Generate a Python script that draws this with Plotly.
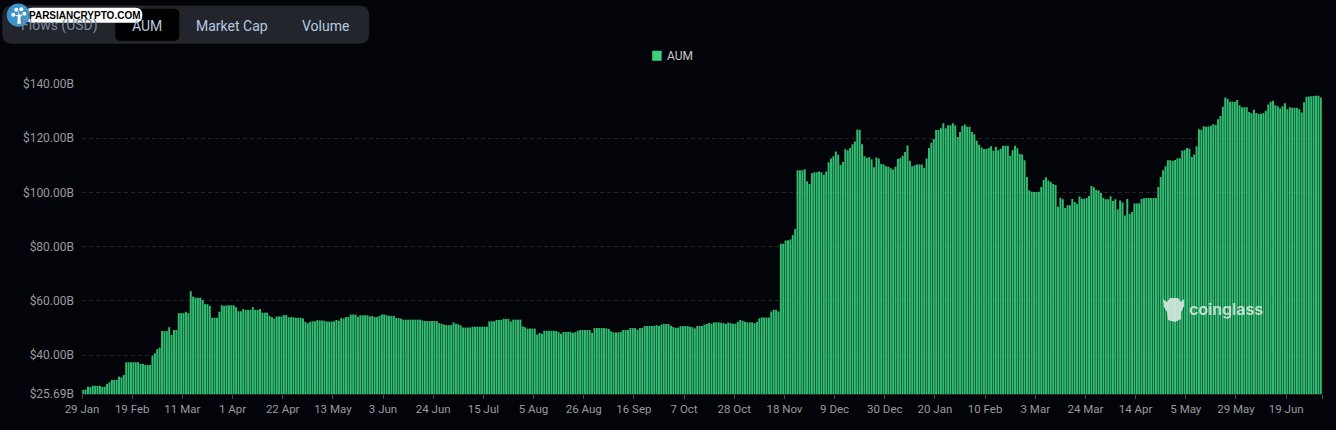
import plotly.graph_objects as go

# AUM in $B, split by stretch of the chart
aum_start = [27.2, 27.3, 28.4, 28.2, 28.7, 28.7, 28.7, 28.7, 28.3, 28.4,
             29.4, 30.0, 30.9, 30.9, 30.9, 32.1, 31.8, 32.7,
             37.4, 37.4, 37.4, 37.4, 37.4, 37.4, 36.8, 36.8, 36.4, 36.4, 36.4,
             39.8, 40.7, 42.2, 42.8, 48.9, 48.9, 48.9, 50.3, 47.5, 49.3, 49.3,
             55.5, 55.5, 55.5, 56.0, 55.5]
aum_spring = [63.6, 61.6, 61.2, 61.2, 61.2, 60.4, 58.8, 58.8, 58.2, 53.8, 53.8, 53.8,
              56.0, 58.4, 58.2, 58.4, 58.4, 58.4, 58.4, 57.7, 56.2, 56.2, 57.0,
              56.7, 56.7, 56.7, 57.7, 56.7, 56.7, 57.0, 55.7, 55.7, 55.7, 54.5, 54.0,
              53.5, 54.3, 54.3, 54.3, 54.8, 54.8, 54.0, 54.0, 54.0, 53.8, 53.8, 53.8,
              53.5, 52.3, 51.8, 52.3, 52.5, 52.5, 52.9, 52.8, 52.8, 52.7, 52.4, 52.4]
aum_summer = [52.4, 52.5, 53.0, 52.7, 53.7, 53.5, 54.1, 54.1, 55.0, 55.0, 55.0, 54.2,
              54.7, 54.7, 54.7, 54.7, 54.3, 54.5, 54.1, 54.1, 54.5, 55.0, 55.0, 54.7,
              54.5, 54.5, 54.5, 53.7, 53.7, 53.5, 53.1, 53.1, 53.1,
              53.1, 53.1, 53.1, 53.1, 53.1, 52.8, 52.6, 52.6, 52.6, 52.6, 52.6, 52.6,
              51.8, 51.6, 51.3, 51.1, 51.1, 51.1, 52.1, 51.6, 51.4, 51.0, 50.2, 50.2,
              50.2, 50.2, 50.5, 50.5, 50.5, 50.5, 50.5, 50.5, 50.5, 52.5, 52.5, 52.5,
              53.0, 53.0, 53.0, 53.4, 53.4, 53.4, 52.4, 53.1, 53.1, 53.1, 53.1, 50.6,
              50.3, 49.8, 49.8, 49.8, 49.8, 47.6, 48.2, 47.9, 49.0, 49.0, 49.0, 49.0,
              49.0, 48.9, 48.5, 47.9, 48.6, 48.6, 48.6, 48.6, 48.2, 48.5, 49.0, 49.3,
              49.3, 49.3, 49.3, 49.3, 48.2, 50.0, 50.0, 50.0, 50.0, 50.0, 49.9, 49.7,
              48.8, 48.4, 48.4, 48.4, 48.6, 49.3, 49.3, 49.3, 50.0, 50.0, 50.0, 49.4,
              50.0, 50.0, 50.8, 50.8, 50.8]
aum_autumn = [50.8, 50.8, 51.1, 50.8, 51.3, 51.5, 51.5, 51.5, 50.9, 50.4, 50.0, 50.2,
              50.7, 50.7, 50.7, 50.7, 50.5, 50.3, 49.9, 50.8, 50.8, 50.8, 51.3, 51.5,
              51.9, 51.6, 52.1, 52.1, 52.1, 51.9, 51.8, 51.6, 52.0, 51.8, 51.6, 51.6,
              52.3, 53.0, 52.7, 52.3, 52.1, 52.1, 52.1, 51.8, 52.3, 53.6, 53.9, 53.9,
              53.9, 53.9, 56.1, 56.7, 56.7, 56.1]
aum_winter = [81.1, 81.1, 82.3, 82.4, 82.7, 84.3, 86.5, 108.2, 108.2, 108.2, 108.6,
              104.1, 103.1, 107.1, 107.5, 107.5, 107.7, 107.5, 106.5, 107.7, 111.1, 112.5,
              113.4, 115.1, 113.9, 110.1, 111.2, 115.9, 115.6, 116.4, 117.8, 118.8, 123.2,
              123.0, 117.8, 113.4, 112.8, 113.0, 112.2, 109.3, 112.9, 112.5, 110.5, 110.3,
              109.7, 109.5, 108.9, 108.5, 109.5, 112.3, 112.7, 113.5, 114.9, 117.3, 111.7,
              109.7, 110.0, 110.3, 110.3, 110.3, 109.0, 112.5, 116.4, 118.3, 119.7, 123.0,
              123.0, 123.7, 125.5, 123.7, 124.8, 124.8, 125.5, 124.7, 120.5, 122.3, 124.5,
              125.1, 124.2, 124.2, 122.3, 121.5, 119.1, 117.6, 116.6, 116.0, 116.0, 116.4,
              117.0, 115.4, 116.9, 115.6]
aum_end = [116.1, 117.2, 117.2, 117.2, 113.5, 115.6, 117.2, 116.3, 114.2, 114.0, 111.9, 105.7,
           100.8, 100.3, 100.2, 100.2, 100.3, 102.0, 104.6, 105.6, 104.4, 103.9, 103.1, 102.8,
           94.7, 98.1, 97.5, 94.3, 95.3, 95.3, 97.6, 96.5, 95.8, 98.5, 97.7, 97.7, 98.0, 98.7,
           102.4, 101.9, 100.9, 100.7, 99.8, 98.0, 97.5, 97.5, 98.6, 96.9, 97.5, 93.8, 97.0,
           96.3, 91.5, 97.6, 92.1, 92.8, 95.9, 95.9, 96.0, 97.6, 97.9, 98.0, 98.0, 98.0, 98.0,
           98.0, 102.0, 105.7, 108.2, 109.7, 111.9, 111.9, 111.6, 112.0, 112.6, 112.6, 115.4,
           115.7, 116.4, 116.1, 113.1, 114.0, 117.0, 123.3, 123.1, 124.4, 124.2, 124.3, 124.6,
           125.2, 125.0, 127.0, 128.2, 131.6, 135.0, 134.6, 133.5, 133.5, 133.5, 134.1, 132.2,
           131.4, 131.4, 131.4, 129.7, 129.2, 130.5, 129.3, 128.9, 129.0, 129.3, 130.1, 132.4,
           133.5, 133.8, 132.2, 131.8, 131.1, 131.8, 132.9, 130.7, 131.4, 131.2, 131.2, 131.2,
           130.7, 129.5, 133.3, 135.3, 135.4, 135.5, 135.6, 135.7, 135.7, 135.0]

aum = aum_start + aum_spring + aum_summer + aum_autumn + aum_winter + aum_end

x_labels = ["29 Jan", "19 Feb", "11 Mar", "1 Apr", "22 Apr", "13 May", "3 Jun", "24 Jun", "15 Jul",
            "5 Aug", "26 Aug", "16 Sep", "7 Oct", "28 Oct", "18 Nov", "9 Dec", "30 Dec", "20 Jan",
            "10 Feb", "3 Mar", "24 Mar", "14 Apr", "5 May", "29 May", "19 Jun", ""]
x_label_bars = [0, 21, 42, 63, 84, 105, 126, 147, 168, 189, 210, 231, 252, 273, 294, 315, 336, 357,
                378, 399, 420, 441, 462, 483, 504, 519]
y_ticks = [25.69, 40, 60, 80, 100, 120, 140]
y_labels = ["$25.69B", "$40.00B", "$60.00B", "$80.00B", "$100.00B", "$120.00B", "$140.00B"]

W, H = 1336, 430
LEFT, RIGHT, TOP, BOTTOM = 81.7, 1322, 84.3, 394
BG = "#03040a"
FONT = "Roboto"


def fx(px):
    return (px - LEFT) / (RIGHT - LEFT)


def fy(py):
    return (BOTTOM - py) / (BOTTOM - TOP)


def round_rect(x0, y0, x1, y1, r, color):
    path = (f"M {fx(x0 + r)} {fy(y0)} L {fx(x1 - r)} {fy(y0)} Q {fx(x1)} {fy(y0)} {fx(x1)} {fy(y0 + r)} "
            f"L {fx(x1)} {fy(y1 - r)} Q {fx(x1)} {fy(y1)} {fx(x1 - r)} {fy(y1)} "
            f"L {fx(x0 + r)} {fy(y1)} Q {fx(x0)} {fy(y1)} {fx(x0)} {fy(y1 - r)} "
            f"L {fx(x0)} {fy(y0 + r)} Q {fx(x0)} {fy(y0)} {fx(x0 + r)} {fy(y0)} Z")
    return dict(type="path", xref="paper", yref="paper", path=path, fillcolor=color, line_width=0, layer="above")


def circle(cx, cy, r, color):
    return dict(type="circle", xref="paper", yref="paper", x0=fx(cx - r), x1=fx(cx + r),
                y0=fy(cy + r), y1=fy(cy - r), fillcolor=color, line_width=0, layer="above")


def poly(points, color):
    path = "M " + " L ".join(f"{fx(a)} {fy(b)}" for a, b in points) + " Z"
    return dict(type="path", xref="paper", yref="paper", path=path, fillcolor=color, line_width=0, layer="above")


def label(text, px, py, size, color, family=FONT, weight=400):
    return dict(text=text, xref="paper", yref="paper", x=fx(px), y=fy(py), xanchor="center", yanchor="middle",
                showarrow=False, font=dict(family=family, size=size, color=color, weight=weight))


# alpha under 1 keeps the thin bars unrounded, so they alias into stripes like the original
fig = go.Figure(go.Bar(x=list(range(len(aum))), y=aum, name="AUM", width=0.82,
                       marker=dict(color="rgba(53,200,120,0.95)", line_width=0)))

shapes = [
    # tab bar
    round_rect(2, 6, 369, 44, 10, "#22252b"),
    round_rect(115, 9, 179, 41, 5, "#000000"),
    # watermark logo, pasted over the tab bar
    round_rect(25, 8, 142, 23, 7, "#ffffff"),
    circle(18, 15.5, 11.5, "#3d94c8"),
    circle(13, 15, 2, "#ffffff"),
    circle(16, 10, 2, "#ffffff"),
    circle(21, 9.5, 2, "#ffffff"),
    circle(24, 14, 2, "#ffffff"),
    poly([(17, 24), (17.5, 17), (14, 15), (18, 15.5), (18, 11), (19.5, 15.5), (23, 14), (20, 17.5), (20.5, 24)], "#ffffff"),
    # legend swatch
    round_rect(652, 51, 661.5, 61, 0.5, "#3ccf80"),
    # coinglass mark
    poly([(1163, 299), (1167, 302), (1170, 298), (1178, 298), (1181, 302), (1184, 299), (1184, 306),
          (1181, 312), (1181, 319), (1175, 322), (1168, 320), (1167, 312), (1164, 307)], "rgba(225,238,230,0.85)"),
]

annotations = [
    label("Flows (USD)", 59.5, 26, 14, "#7c8a99"),
    label("AUM", 147, 26, 14, "#b9c9d9"),
    label("Market Cap", 231.5, 26, 14, "#b5cbe2"),
    label("Volume", 325, 26, 14, "#b5cbe2"),
    label("AUM", 679.5, 56, 12, "#c8c8c8"),
    label("PARSIANCRYPTO.COM", 85, 15.5, 10, "#000000", family="Liberation Sans", weight=700),
    label("coinglass", 1226, 309.5, 16, "rgba(225,238,230,0.85)", family="Inter", weight=600),
]

fig.update_layout(
    width=W, height=H, autosize=False,
    margin=dict(l=LEFT, r=W - RIGHT, t=TOP, b=H - BOTTOM, pad=0),
    paper_bgcolor=BG, plot_bgcolor=BG,
    font=dict(family=FONT, size=12, color="#9a9a9a"),
    showlegend=False,
    shapes=shapes, annotations=annotations,
    xaxis=dict(range=[-0.5, 518.5], tickmode="array", tickvals=[b - 0.5 for b in x_label_bars], ticktext=x_labels,
               tickangle=0, showgrid=False, zeroline=False, ticks="outside", ticklen=4, tickwidth=1, tickcolor="#4a4a4a",
               showline=True, linecolor="#2a2a2a", linewidth=1, tickfont=dict(size=11.5, color="#9a9a9a")),
    yaxis=dict(range=[25.69, 140], tickmode="array", tickvals=y_ticks, ticktext=y_labels, showgrid=True,
               gridcolor="#212327", griddash="4px,3px", gridwidth=1, zeroline=False, showline=False, ticks="",
               ticklabelstandoff=7, tickfont=dict(size=12, color="#9a9a9a")),
)

fig.write_html("out.html", config=dict(displayModeBar=False),
               post_script="document.body.style.margin='0';document.body.style.background='#03040a';document.body.style.overflow='hidden';")
